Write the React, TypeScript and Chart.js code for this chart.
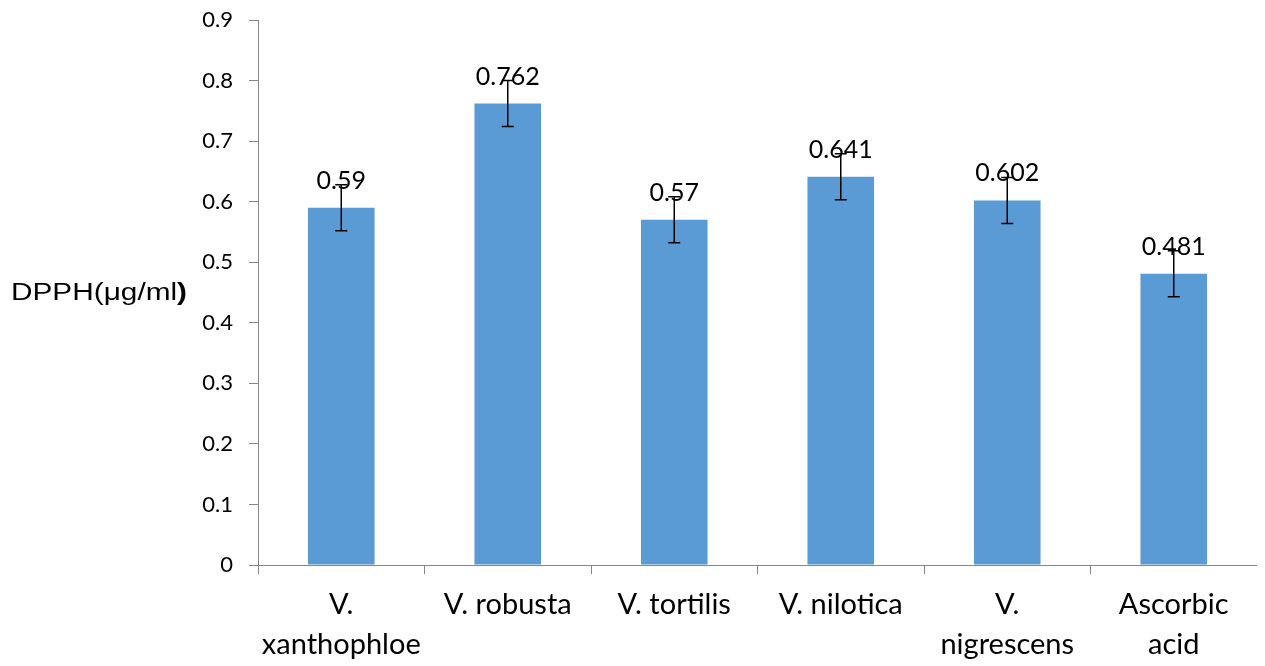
import React, { useEffect, useRef } from "react";
import { Chart, registerables } from "chart.js";

Chart.register(...registerables);

const categories: (string | string[])[] = [
  ["V.", "xanthophloe"],
  "V. robusta",
  "V. tortilis",
  "V. nilotica",
  ["V.", "nigrescens"],
  ["Ascorbic", "acid"],
];
const values = [0.59, 0.762, 0.57, 0.641, 0.602, 0.481];
const errors = [0.038, 0.038, 0.038, 0.038, 0.038, 0.038];
const dataLabels = ["0.59", "0.762", "0.57", "0.641", "0.602", "0.481"];
const yTitle = "DPPH(μg/ml";
const yTitleBold = ")";

const overlayPlugin = {
  id: "overlay",
  afterDatasetsDraw(chart: any) {
    const ctx = chart.ctx;
    const meta = chart.getDatasetMeta(0);
    const y = chart.scales.y;
    ctx.save();
    meta.data.forEach((bar: any, i: number) => {
      const v = values[i];
      const e = errors[i];
      const yt = y.getPixelForValue(v + e);
      const yb = y.getPixelForValue(v - e);
      ctx.strokeStyle = "#000";
      ctx.lineWidth = 1.5;
      ctx.beginPath();
      ctx.moveTo(bar.x, yt);
      ctx.lineTo(bar.x, yb);
      ctx.moveTo(bar.x - 6, yt);
      ctx.lineTo(bar.x + 6, yt);
      ctx.moveTo(bar.x - 6, yb);
      ctx.lineTo(bar.x + 6, yb);
      ctx.stroke();
    });
    ctx.fillStyle = "#000";
    ctx.font = "25px Lato, 'Open Sans', sans-serif";
    ctx.textAlign = "center";
    ctx.textBaseline = "alphabetic";
    meta.data.forEach((bar: any, i: number) => {
      ctx.fillText(dataLabels[i], bar.x, y.getPixelForValue(values[i]) - 19);
    });
    // y title
    const cy = y.getPixelForValue(0.45) + 1;
    ctx.textAlign = "left";
    ctx.textBaseline = "middle";
    const reg = "23px 'Liberation Sans', Arial, sans-serif";
    const bold = "bold 23px 'Liberation Sans', Arial, sans-serif";
    ctx.font = reg;
    const w1 = ctx.measureText(yTitle).width;
    ctx.font = bold;
    const w2 = ctx.measureText(yTitleBold).width;
    const sx = 176 / (w1 + w2);
    ctx.translate(3, cy);
    ctx.scale(sx, 1);
    ctx.font = reg;
    ctx.fillText(yTitle, 0, 0);
    ctx.font = bold;
    ctx.fillText(yTitleBold, w1, 0);
    ctx.restore();
  },
};

export default function App() {
  const ref = useRef<HTMLCanvasElement>(null);
  useEffect(() => {
    if (!ref.current) return;
    document.documentElement.style.overflow = "hidden";
    document.body.style.overflow = "hidden";
    const chart = new Chart(ref.current, {
      type: "bar",
      data: {
        labels: categories,
        datasets: [
          {
            data: values,
            backgroundColor: "#5B9BD5",
            barPercentage: 0.5,
            categoryPercentage: 0.8,
          },
        ],
      },
      options: {
        animation: false,
        responsive: true,
        maintainAspectRatio: false,
        layout: { padding: 0 },
        plugins: { legend: { display: false }, tooltip: { enabled: false } },
        scales: {
          x: {
            grid: {
              display: true,
              drawOnChartArea: false,
              offset: true,
              color: "#868686",
              tickLength: 9,
            },
            border: { color: "#868686", width: 1 },
            ticks: {
              color: "#000",
              font: { family: "Lato, 'Open Sans', sans-serif", size: 29, lineHeight: 1.4 },
              padding: 10,
              maxRotation: 0,
              autoSkip: false,
            },
            afterFit: (s: any) => {
              s.height = 101;
              s.paddingLeft = 0;
              s.paddingRight = 0;
            },
          },
          y: {
            min: 0,
            max: 0.9,
            ticks: {
              stepSize: 0.1,
              color: "#000",
              font: { family: "Lato, 'Open Sans', sans-serif", size: 22 },
              padding: 16,
              callback: (v: any) => (Math.round(Number(v) * 10) / 10).toString(),
            },
            grid: {
              display: true,
              drawOnChartArea: false,
              color: "#868686",
              tickLength: 9,
            },
            border: { color: "#868686", width: 1 },
            afterFit: (s: any) => {
              s.width = 250;
              s.paddingTop = 12;
              s.paddingBottom = 0;
            },
          },
        },
      },
      plugins: [overlayPlugin],
    });
    return () => chart.destroy();
  }, []);
  return (
    <div style={{ width: 1249, height: 658 }}>
      <canvas ref={ref} />
    </div>
  );
}
